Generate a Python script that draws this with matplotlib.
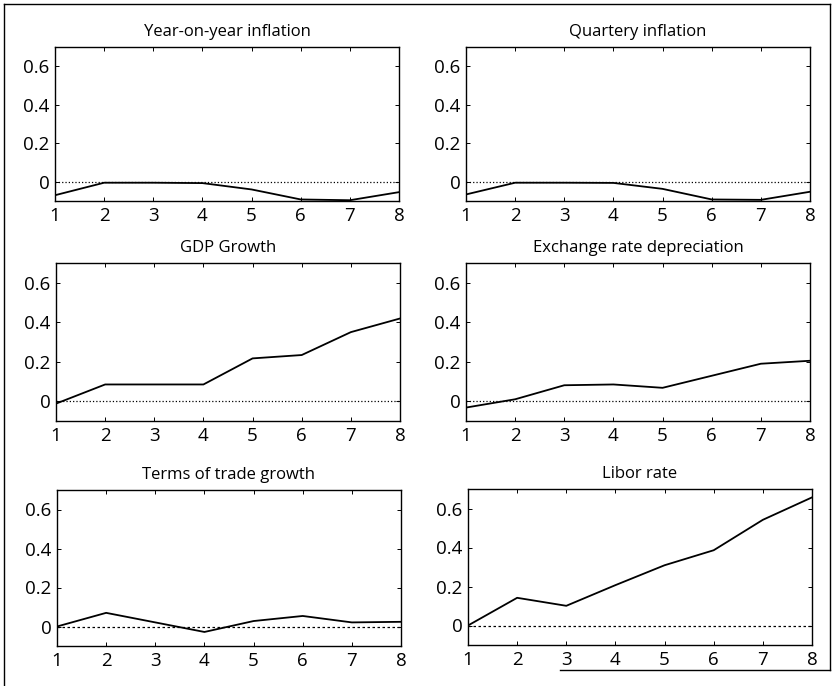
import matplotlib
matplotlib.use("Agg")
import matplotlib.pyplot as plt
from matplotlib.lines import Line2D

plt.rcParams['font.family'] = ['Open Sans', 'DejaVu Sans']

horizons = [1, 2, 3, 4, 5, 6, 7, 8]
titles = ["Year-on-year inflation", "Quartery inflation", "GDP Growth",
          "Exchange rate depreciation", "Terms of trade growth", "Libor rate"]

yoy_inflation = [-0.07, -0.005, -0.005, -0.007, -0.04, -0.092, -0.096, -0.054]
qtr_inflation = [-0.066, -0.005, -0.005, -0.006, -0.037, -0.092, -0.094, -0.052]
gdp_growth = [-0.012, 0.085, 0.085, 0.085, 0.217, 0.234, 0.35, 0.419]
exch_depr = [-0.032, 0.01, 0.081, 0.085, 0.068, 0.129, 0.19, 0.205]
tot_growth = [0.0, 0.07, 0.021, -0.028, 0.028, 0.054, 0.021, 0.024]
libor = [0.0, 0.142, 0.101, 0.207, 0.309, 0.386, 0.542, 0.657]

series = [yoy_inflation, qtr_inflation, gdp_growth, exch_depr, tot_growth, libor]
ytick_vals = [0, 0.2, 0.4, 0.6]
ytick_labels = ["0", "0.2", "0.4", "0.6"]

W, H = 833, 686
fig = plt.figure(figsize=(W / 100, H / 100), dpi=100)

# axes boxes in pixel coords: (left, top, right, bottom)
boxes = [(55, 47, 399, 201), (466, 47, 810, 201),
         (56, 263, 400, 421), (466, 263, 810, 421),
         (57, 490, 401, 646), (468, 489, 812, 645)]

for i, (l, t, r, b) in enumerate(boxes):
    ax = fig.add_axes([l / W, 1 - b / H, (r - l) / W, (b - t) / H])
    ax.plot(horizons, series[i], color='black', lw=1.3)
    ls = ':' if i < 4 else (0, (2, 2))
    ax.axhline(0, color='black', lw=0.9, ls=ls)
    ax.set_xlim(1, 8)
    ax.set_ylim(-0.1, 0.7)
    ax.set_xticks(horizons)
    ax.set_yticks(ytick_vals)
    ax.set_yticklabels(ytick_labels)
    ax.tick_params(direction='in', top=True, right=True, length=3, width=0.7,
                   labelsize=13.5, pad=4)
    for lab in ax.get_xticklabels() + ax.get_yticklabels():
        lab.set_fontweight('medium')
    for s in ax.spines.values():
        s.set_linewidth(1.0)
    ax.set_title(titles[i], fontsize=12, pad=8, fontweight='medium')

# page border
def px_line(x0, y0, x1, y1):
    fig.add_artist(Line2D([x0 / W, x1 / W], [1 - y0 / H, 1 - y1 / H],
                          color='black', lw=1.0, transform=fig.transFigure))

px_line(4, 4, 830, 4)
px_line(4, 4, 4, 686)
px_line(830, 4, 830, 670)
px_line(560, 670, 830, 670)

fig.savefig("out.png", dpi=100, facecolor='white')
